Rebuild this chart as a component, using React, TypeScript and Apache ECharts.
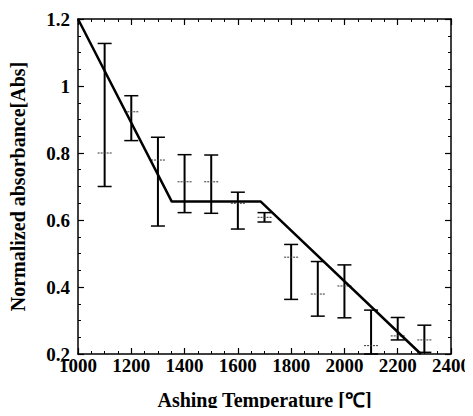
import React, { useEffect, useRef } from "react";
import * as echarts from "echarts";

const temps = [1100, 1200, 1300, 1400, 1500, 1600, 1700, 1800, 1900, 2000, 2100, 2200, 2300];
const highs = [1.127, 0.971, 0.847, 0.795, 0.794, 0.683, 0.622, 0.527, 0.476, 0.466, 0.331, 0.309, 0.286];
const lows = [0.70, 0.837, 0.582, 0.622, 0.62, 0.573, 0.594, 0.363, 0.313, 0.308, 0.2, 0.242, 0.205];
const means = [0.80, 0.923, 0.779, 0.714, 0.714, 0.65, 0.608, 0.489, 0.379, 0.403, 0.225, 0.254, 0.242];

const fitX = [1000, 1352, 1686, 2287];
const fitY = [1.2, 0.655, 0.655, 0.2];

const xTicks = ["1000", "1200", "1400", "1600", "1800", "2000", "2200", "2400"];
const yTicks = ["0.2", "0.4", "0.6", "0.8", "1", "1.2"];

const FONT = "Liberation Serif";

export default function App() {
  const ref = useRef<HTMLDivElement>(null);
  useEffect(() => {
    if (!ref.current) return;
    const chart = echarts.init(ref.current, null, { renderer: "svg" });
    const axisCommon = {
      axisLine: { show: true, lineStyle: { color: "#000", width: 1.5 } },
      axisTick: { show: true, inside: true, length: 6, lineStyle: { color: "#000", width: 1.2 } },
      minorTick: { show: true, splitNumber: 4, length: 3, lineStyle: { color: "#000", width: 1 } },
      splitLine: { show: false },
    };
    chart.setOption({
      animation: false,
      backgroundColor: "#fff",
      grid: { left: 70, top: 19, right: 17, bottom: 62 },
      xAxis: [
        {
          type: "value",
          min: 1000,
          max: 2400,
          interval: 200,
          ...axisCommon,
          axisLabel: {
            color: "#000",
            fontFamily: FONT,
            fontWeight: "bold",
            fontSize: 19,
            margin: 2,
            formatter: (v: number) => (xTicks.includes(String(v)) ? String(v) : ""),
          },
          name: "Ashing Temperature [℃]",
          nameLocation: "middle",
          nameGap: 36,
          nameTextStyle: { color: "#000", fontFamily: FONT, fontWeight: "bold", fontSize: 20 },
        },
        {
          type: "value",
          position: "top",
          min: 1000,
          max: 2400,
          interval: 200,
          ...axisCommon,
          axisLabel: { show: false },
        },
      ],
      yAxis: [
        {
          type: "value",
          min: 0.2,
          max: 1.2,
          interval: 0.2,
          ...axisCommon,
          axisLabel: {
            color: "#000",
            fontFamily: FONT,
            fontWeight: "bold",
            fontSize: 19,
            margin: 8,
            formatter: (v: number) => {
              const s = String(Math.round(v * 10) / 10);
              return yTicks.includes(s) ? s : "";
            },
          },
          name: "Normalized absorbance[Abs]",
          nameLocation: "middle",
          nameGap: 50,
          nameTextStyle: { color: "#000", fontFamily: FONT, fontWeight: "bold", fontSize: 20 },
        },
        {
          type: "value",
          position: "right",
          min: 0.2,
          max: 1.2,
          interval: 0.2,
          ...axisCommon,
          axisLabel: { show: false },
        },
      ],
      series: [
        {
          type: "custom",
          xAxisIndex: 0,
          yAxisIndex: 0,
          data: temps.map((t, i) => [t, lows[i], highs[i], means[i]]),
          renderItem: (_params: any, api: any) => {
            const x = api.value(0);
            const lo = api.coord([x, api.value(1)]);
            const hi = api.coord([x, api.value(2)]);
            const md = api.coord([x, api.value(3)]);
            const w = 7;
            const st = { stroke: "#000", lineWidth: 2 };
            const cap = { stroke: "#000", lineWidth: 1.5 };
            const mid = { stroke: "#333", lineWidth: 1, lineDash: [2, 1] };
            return {
              type: "group",
              children: [
                { type: "line", shape: { x1: hi[0], y1: hi[1], x2: lo[0], y2: lo[1] }, style: st },
                { type: "line", shape: { x1: hi[0] - w, y1: hi[1], x2: hi[0] + w, y2: hi[1] }, style: cap },
                { type: "line", shape: { x1: lo[0] - w, y1: lo[1], x2: lo[0] + w, y2: lo[1] }, style: cap },
                { type: "line", shape: { x1: md[0] - w, y1: md[1], x2: md[0] + w, y2: md[1] }, style: mid },
              ],
            };
          },
          z: 2,
        },
        {
          type: "line",
          xAxisIndex: 0,
          yAxisIndex: 0,
          data: fitX.map((x, i) => [x, fitY[i]]),
          symbol: "none",
          lineStyle: { color: "#000", width: 2.5 },
          z: 3,
        },
      ],
    });
    return () => chart.dispose();
  }, []);
  return <div ref={ref} style={{ width: 473, height: 416, margin: -8 }} />;
}
